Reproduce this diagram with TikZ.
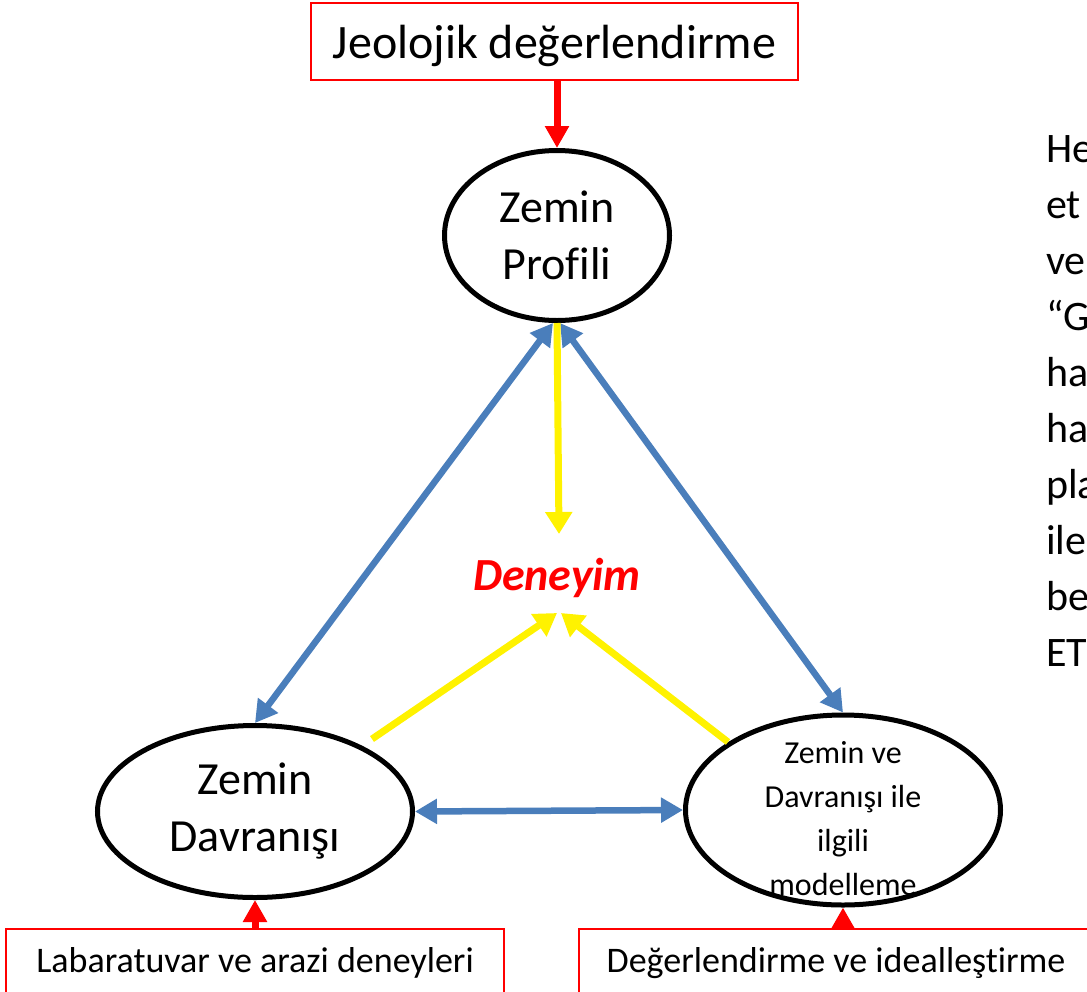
\documentclass[tikz,border=0pt]{standalone}
\usepackage{fontspec}
\setmainfont{Carlito}[Ligatures=CommonOff]
\usetikzlibrary{shapes.geometric,arrows.meta}
\definecolor{pblue}{HTML}{4A7EBB}
\tikzset{
  redbox/.style={draw=red, line width=2pt, inner sep=0pt},
  ell/.style={ellipse, draw=black, line width=5pt, inner sep=0pt, align=center},
  bluearr/.style={draw=pblue, line width=6.5pt, {Triangle[length=22pt,width=24pt]}-{Triangle[length=22pt,width=24pt]}},
  yarr/.style={draw=yellow, line width=7pt, -{Triangle[length=22pt,width=26pt]}},
  rarr/.style={draw=red, line width=7pt, -{Triangle[length=22pt,width=23pt]}},
  sidetxt/.style={inner sep=0pt, anchor=base west, font=\fontsize{42}{50}\selectfont}
}
\begin{document}
\begin{tikzpicture}[x=1pt,y=-1pt]
\clip (0,0) rectangle (1087,991);
\useasboundingbox (0,0) rectangle (1087,991);

% boxes
\node[redbox, minimum width=487pt, minimum height=77pt, text depth=0pt, font=\fontsize{48}{58}\selectfont] (jeo) at (554.5,41.5) {Jeolojik değerlendirme};
\node[redbox, minimum width=498pt, minimum height=68pt, font=\fontsize{36}{44}\selectfont] (lab) at (255,963) {Labaratuvar ve arazi deneyleri};
\node[redbox, minimum width=514pt, minimum height=68pt, font=\fontsize{36}{44}\selectfont] (deg) at (836,963) {Değerlendirme ve idealleştirme};

% ellipses
\node[ell, minimum width=225pt, minimum height=170pt, font=\fontsize{46}{57}\selectfont] (profili) at (557,235.5) {Zemin\\Profili};
\node[ell, minimum width=315pt, minimum height=172pt, font=\fontsize{46}{57}\selectfont] (davr) at (255,811.5) {Zemin\\Davranışı};
\node[ell, minimum width=315pt, minimum height=190pt] (model) at (843,810) {};
\node[align=center, inner sep=0pt, font=\fontsize{32}{44}\selectfont] (modeltxt) at (843,819) {Zemin ve\\Davranışı ile\\ilgili\\modelleme};

% center label
\node[anchor=base, text=red, font=\fontsize{46}{55}\selectfont\bfseries\itshape] (deneyim) at (557,590) {Deneyim};

% side text (cut off at the right edge, as in the source)
\foreach \t [count=\i] in {He,et,ve,“G,ha,ha,pla,ile,be,ET}
  \node[sidetxt] (s\i) at (1046,{162+56*(\i-1)}) {\t};

% coordinates for yellow arrows
\coordinate (dtip) at (559,534);
\coordinate (yt1) at (557,613);
\coordinate (yt2) at (561,613);
\coordinate (ys1) at (372,739);
\coordinate (ys2) at (728,742);

% red arrows
\draw[rarr] (jeo.south -| profili.north) -- (profili.north);
\draw[rarr] (lab.north) -- (davr.south);
\draw[rarr] (deg.north -| model.south) -- (model.south);

% blue arrows
\draw[bluearr] ([xshift=-4pt]profili.south) -- (davr.north);
\draw[bluearr] ([xshift=3pt]profili.south) -- (model.north);
\draw[bluearr] (davr.east) -- (model.west);

% yellow arrows
\draw[yarr] (profili.south) -- (dtip);
\draw[yarr] (ys1) -- (yt1);
\draw[yarr] (ys2) -- (yt2);
\end{tikzpicture}
\end{document}
